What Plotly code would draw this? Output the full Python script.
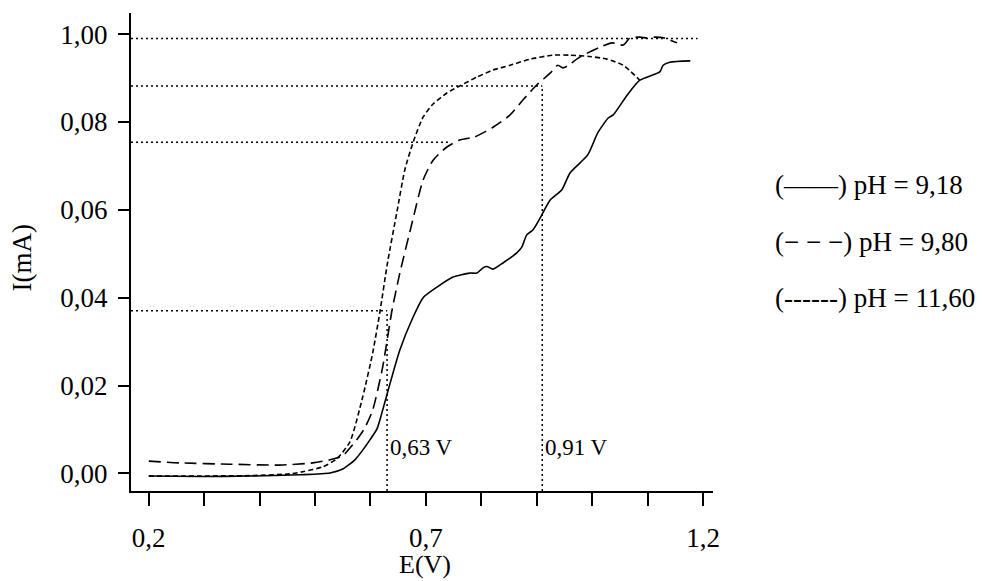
import plotly.graph_objects as go

# ---- data ----
E_918 = [0.200, 0.292, 0.382, 0.473, 0.527, 0.550, 0.572, 0.586, 0.600, 0.612, 0.620, 0.631,
         0.653, 0.677, 0.695, 0.720, 0.749, 0.779, 0.792, 0.803, 0.810, 0.821, 0.839,
         0.864, 0.873, 0.882, 0.893, 0.906, 0.924, 0.945, 0.960, 0.992, 1.010, 1.029,
         1.038, 1.063, 1.086, 1.122, 1.128, 1.140, 1.177]
I_918 = [-0.0006, -0.0007, -0.0006, -0.0003, 0.0001, 0.0010, 0.0031, 0.0053, 0.0078, 0.0102,
         0.0135, 0.0185, 0.0281, 0.0356, 0.0400, 0.0424, 0.0447, 0.0456, 0.0456, 0.0468,
         0.0471, 0.0465, 0.0479, 0.0502, 0.0515, 0.0543, 0.0554, 0.0581, 0.0622, 0.0645,
         0.0684, 0.0725, 0.0775, 0.0809, 0.0816, 0.0861, 0.0895, 0.0914, 0.0929, 0.0936,
         0.0939]

E_980 = [0.200, 0.256, 0.346, 0.436, 0.496, 0.527, 0.550, 0.563, 0.575, 0.590, 0.604,
         0.622, 0.639, 0.653, 0.675, 0.695, 0.713, 0.738, 0.761, 0.788, 0.821, 0.852,
         0.875, 0.900, 0.924, 0.938, 0.947, 0.956, 0.978, 1.014, 1.036, 1.056, 1.068,
         1.086, 1.099, 1.113, 1.131, 1.153]
I_980 = [0.0028, 0.0024, 0.0021, 0.0019, 0.0024, 0.0031, 0.0040, 0.0058, 0.0076, 0.0104,
         0.0144, 0.0242, 0.0372, 0.0456, 0.0570, 0.0668, 0.0713, 0.0743, 0.0759, 0.0766,
         0.0788, 0.0816, 0.0850, 0.0884, 0.0911, 0.0929, 0.0923, 0.0928, 0.0948, 0.0970,
         0.0980, 0.0975, 0.0991, 0.0993, 0.0991, 0.0993, 0.0991, 0.0980]

E_1160 = [0.200, 0.382, 0.455, 0.478, 0.514, 0.539, 0.563, 0.586, 0.604, 0.617, 0.631,
          0.648, 0.662, 0.677, 0.695, 0.713, 0.738, 0.761, 0.792, 0.821, 0.852, 0.888,
          0.929, 0.960, 0.996, 1.027, 1.056, 1.086]
I_1160 = [-0.0006, -0.0005, -0.0001, 0.0004, 0.0015, 0.0033, 0.0072, 0.0174, 0.0274,
          0.0367, 0.0481, 0.0597, 0.0691, 0.0754, 0.0811, 0.0841, 0.0866, 0.0882, 0.0902,
          0.0918, 0.0929, 0.0943, 0.0952, 0.0952, 0.0949, 0.0943, 0.0929, 0.0895]

# reference (guide) lines: horizontal levels with their right end, vertical potentials with top
h_levels = [0.0990, 0.0882, 0.0754, 0.0370]
h_ends = [1.190, 0.910, 0.745, 0.630]
v_pots = [0.63, 0.91]
v_tops = [0.0370, 0.0882]
v_labels = ["0,63 V", "0,91 V"]

x_tickvals = [0.2, 0.3, 0.4, 0.5, 0.6, 0.7, 0.8, 0.9, 1.0, 1.1, 1.2]
x_ticktext = ["0,2", "", "", "", "", "0,7", "", "", "", "", "1,2"]
y_tickvals = [0.0, 0.02, 0.04, 0.06, 0.08, 0.10]
y_ticktext = ["0,00", "0,02", "0,04", "0,06", "0,08", "1,00"]

legend_texts = ["(\u2014\u2014) pH = 9,18", "(\u2212 \u2212 \u2212) pH = 9,80", "(------) pH = 11,60"]

X_MIN, X_MAX = 0.168, 1.218
Y_MIN, Y_MAX = -0.004, 0.1048
FONT = "Liberation Serif"
FS = 27

fig = go.Figure()

dot = dict(color="black", width=1.5, dash="2px,3px")
for lvl, end in zip(h_levels, h_ends):
    fig.add_trace(go.Scatter(x=[X_MIN, end], y=[lvl, lvl], mode="lines", line=dot,
                             showlegend=False, hoverinfo="skip"))
for pot, top in zip(v_pots, v_tops):
    fig.add_trace(go.Scatter(x=[pot, pot], y=[Y_MIN, top], mode="lines", line=dot,
                             showlegend=False, hoverinfo="skip"))

fig.add_trace(go.Scatter(x=E_918, y=I_918, mode="lines", name="pH = 9,18",
                         line=dict(color="black", width=1.6, shape="spline", smoothing=0.6)))
fig.add_trace(go.Scatter(x=E_980, y=I_980, mode="lines", name="pH = 9,80",
                         line=dict(color="black", width=1.6, dash="12px,6px", shape="spline", smoothing=0.6)))
fig.add_trace(go.Scatter(x=E_1160, y=I_1160, mode="lines", name="pH = 11,60",
                         line=dict(color="black", width=1.6, dash="5px,3px", shape="spline", smoothing=0.6)))

for pot, lab in zip(v_pots, v_labels):
    fig.add_annotation(x=pot, y=0.0058, text=lab, showarrow=False, xanchor="left",
                       xshift=1, font=dict(family=FONT, size=23, color="black"))

for i, t in enumerate(legend_texts):
    fig.add_annotation(xref="paper", yref="paper", x=1.103, y=[0.640, 0.521, 0.404][i], text=t,
                       showarrow=False, xanchor="left", yanchor="middle",
                       font=dict(family=FONT, size=FS, color="black"))

# axis titles
fig.add_annotation(xref="paper", yref="paper", x=0.505, y=-0.154, text="E(V)",
                   showarrow=False, xanchor="center", yanchor="middle",
                   font=dict(family=FONT, size=26, color="black"))
fig.add_annotation(xref="paper", yref="paper", x=-0.187, y=0.487, text="I(mA)", textangle=-90,
                   showarrow=False, xanchor="center", yanchor="middle",
                   font=dict(family=FONT, size=FS, color="black"))

fig.update_layout(
    template="none",
    width=976, height=573,
    margin=dict(l=123, r=271, t=5, b=90, pad=0),
    paper_bgcolor="white", plot_bgcolor="white",
    showlegend=False,
    font=dict(family=FONT, size=FS, color="black"),
    xaxis=dict(range=[X_MIN, X_MAX], tickvals=x_tickvals, ticktext=x_ticktext,
               automargin=False, showgrid=False, zeroline=False, showline=True,
               linecolor="black", linewidth=2,
               ticks="outside", ticklen=13, tickwidth=2, tickcolor="black",
               ticklabelstandoff=9, tickfont=dict(family=FONT, size=FS)),
    yaxis=dict(range=[Y_MIN, Y_MAX], tickvals=y_tickvals, ticktext=y_ticktext,
               automargin=False, showgrid=False, zeroline=False, showline=True,
               linecolor="black", linewidth=2,
               ticks="outside", ticklen=11, tickwidth=2, tickcolor="black",
               ticklabelstandoff=5, tickfont=dict(family=FONT, size=FS)),
)

fig.write_html("out.html")
